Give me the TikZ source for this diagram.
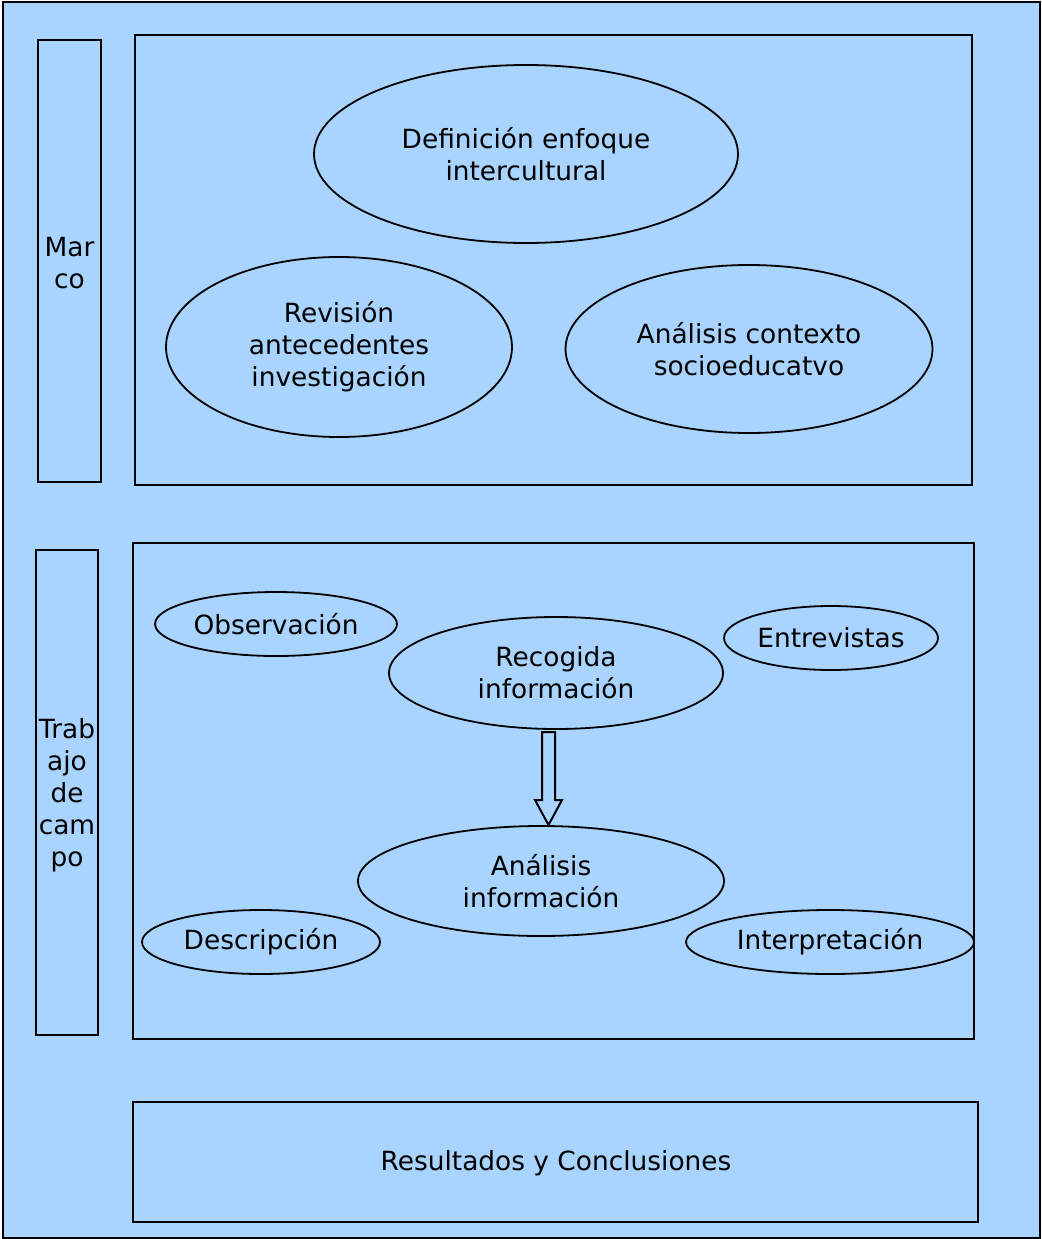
\documentclass[tikz,border=0pt]{standalone}
\usepackage{fontspec}
\setmainfont{DejaVu Sans}
\usetikzlibrary{shapes.geometric,shapes.arrows}
\definecolor{bg}{RGB}{168,212,255}
\begin{document}
\begin{tikzpicture}[x=1pt,y=-1pt,
  box/.style={draw=black,line width=2pt},
  ell/.style={draw=black,line width=1.8pt,ellipse,inner sep=0pt,align=center,font=\fontsize{26.4}{32}\selectfont},
  lab/.style={align=center,font=\fontsize{26.4}{32}\selectfont}]
\useasboundingbox (0,0) rectangle (1041,1239);
\fill[bg] (3,2) rectangle (1040,1238);
\draw[line width=2.4pt] (3,2) rectangle (1040,1238);
% Marco
\draw[box] (38,40) rectangle (101,482);
\node[lab] (marco) at (69.5,263) {Mar\\co};
\draw[box] (135,35) rectangle (972,485);
\node[ell,minimum width=424,minimum height=178] (def) at (526,154) {Definición enfoque\\intercultural};
\node[ell,minimum width=346,minimum height=180] (rev) at (339,347) {Revisión\\antecedentes\\investigación};
\node[ell,minimum width=367,minimum height=168] (ctx) at (749,349) {Análisis contexto\\socioeducatvo};
% Trabajo de campo
\draw[box] (36,550) rectangle (98,1035);
\node[lab] (tdc) at (67,795) {Trab\\ajo\\de\\cam\\po};
\draw[box] (133,543) rectangle (974,1039);
\node[ell,minimum width=242,minimum height=64] (obs) at (276,624) {Observación};
\node[ell,minimum width=334,minimum height=112] (rec) at (556,673) {Recogida\\información};
\node[ell,minimum width=214,minimum height=64] (ent) at (831,638) {Entrevistas};
\node[ell,minimum width=366,minimum height=110] (ana) at (541,881) {Análisis\\información};
\node[ell,minimum width=238,minimum height=64] (des) at (261,942) {Descripción};
\node[ell,minimum width=288,minimum height=64] (int) at (830,942) {Interpretación};
% block arrow
\draw[line width=2pt,fill=bg,line join=miter]
  (542,732) -- (555,732) -- (555,800) -- (562,800) -- (548.5,825) -- (535,800) -- (542,800) -- cycle;
% Resultados
\draw[box] (133,1102) rectangle (978,1222);
\node[lab] (res) at (556,1163) {Resultados y Conclusiones};
\end{tikzpicture}
\end{document}
